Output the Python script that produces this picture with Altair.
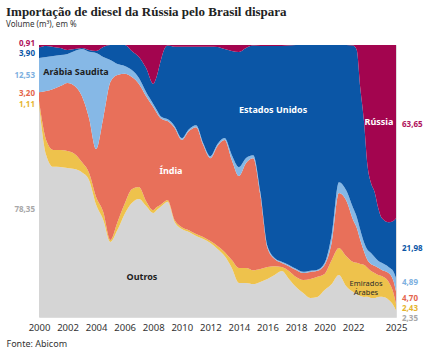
import altair as alt
import pandas as pd

years = [2000, 2000.5, 2001, 2001.5, 2002, 2002.5, 2003, 2003.5, 2004, 2004.5,
         2005, 2005.5, 2006, 2006.5, 2007, 2007.5, 2008, 2008.25, 2008.5, 2008.75,
         2009, 2009.5, 2010, 2010.5, 2011, 2011.5, 2012, 2012.5, 2013, 2013.5,
         2014, 2014.5, 2015, 2015.5, 2016, 2016.5, 2017, 2017.5, 2018, 2018.5,
         2019, 2019.5, 2020, 2020.5, 2021, 2021.5, 2022, 2022.25, 2022.5, 2022.75,
         2023, 2023.25, 2023.5, 2023.75, 2024, 2024.5, 2024.8, 2025]

outros = [78.35, 59.6, 55.1, 55.1, 54.8, 54.4, 53.3, 50.4, 41.2, 35.7,
          27.6, 32.0, 37.9, 41.9, 43.4, 40.8, 38.2, 39.3, 40.4, 41.5,
          42.3, 34.9, 32.3, 31.2, 29.8, 28.7, 27.2, 25.0, 22.4, 18.0,
          12.5, 12.5, 12.1, 12.9, 14.0, 15.4, 16.9, 14.0, 11.0, 8.8,
          7.0, 7.4, 9.9, 12.1, 15.4, 11.4, 9.2, 8.5, 7.7, 7.4,
          7.4, 7.0, 7.0, 7.4, 7.4, 6.2, 4.4, 2.35]
emirados = [1.11, 5.5, 6.2, 6.2, 6.2, 5.5, 3.7, 2.6, 2.9, 2.9,
            0.7, 2.9, 3.7, 5.1, 4.4, 1.8, 1.1, 1.1, 0.7, 0.7,
            0.7, 0.7, 0.7, 0.7, 0.7, 0.7, 0.7, 1.1, 1.5, 2.9,
            5.5, 5.5, 5.1, 4.8, 4.4, 3.3, 1.5, 2.9, 3.7, 4.8,
            7.0, 7.4, 5.9, 8.8, 9.9, 11.0, 11.0, 11.4, 11.8, 11.8,
            10.7, 9.9, 9.2, 8.1, 7.7, 6.6, 4.8, 2.43]
india = [3.20, 18.0, 22.4, 23.5, 25.0, 25.0, 24.3, 20.2, 17.6, 34.6,
         58.1, 54.0, 47.8, 41.2, 37.9, 38.6, 37.9, 34.6, 32.0, 30.1,
         29.0, 33.8, 32.0, 36.4, 39.3, 33.8, 30.5, 36.8, 41.2, 36.8,
         33.8, 38.6, 41.2, 27.2, 7.0, 2.6, 1.5, 1.8, 2.6, 2.6,
         2.6, 2.2, 3.3, 6.6, 20.2, 20.6, 15.4, 12.9, 8.8, 5.1,
         2.9, 2.6, 2.6, 2.6, 2.2, 3.3, 4.4, 4.70]
arabia = [12.53, 12.5, 12.1, 11.4, 10.7, 12.9, 17.3, 24.3, 35.3, 22.4,
          8.1, 4.0, 2.9, 2.6, 2.2, 1.5, 1.1, 1.1, 0.7, 0.7,
          0.7, 0.7, 0.7, 0.7, 0.7, 0.7, 0.7, 0.7, 0.7, 1.8,
          3.3, 1.8, 1.1, 1.1, 0.7, 0.4, 0.4, 0.4, 0.4, 0.4,
          0.4, 0.4, 0.7, 2.9, 4.0, 3.7, 4.4, 4.0, 3.7, 3.3,
          3.7, 4.0, 3.3, 2.6, 2.6, 2.2, 3.3, 4.89]
eua = [3.90, 4.0, 3.3, 2.6, 1.5, 0.7, 0.4, 0.7, 0.7, 3.7,
       5.5, 7.0, 7.7, 7.0, 7.7, 8.8, 7.4, 12.5, 19.9, 25.0,
       27.0, 29.2, 33.6, 30.3, 28.9, 35.5, 40.3, 35.7, 32.7, 38.2,
       42.3, 40.4, 40.3, 53.7, 73.5, 77.9, 79.4, 80.7, 82.3, 83.4,
       83.1, 82.7, 80.1, 69.5, 50.4, 53.3, 59.7, 61.4, 52.2, 44.9,
       31.2, 25.7, 23.9, 19.5, 16.5, 16.5, 18.4, 21.98]
russia = [0.91, 0.4, 0.7, 1.1, 1.8, 1.5, 1.1, 1.8, 2.2, 0.7,
          0.0, 0.0, 0.0, 2.2, 4.4, 8.5, 14.3, 11.4, 6.2, 1.8,
          0.2, 0.6, 0.6, 0.6, 0.6, 0.6, 0.6, 0.7, 1.5, 2.2,
          2.6, 1.1, 0.2, 0.4, 0.4, 0.4, 0.4, 0.2, 0.0, 0.0,
          0.0, 0.0, 0.0, 0.0, 0.0, 0.0, 0.2, 1.8, 15.8, 27.6,
          44.1, 50.7, 54.0, 59.9, 63.6, 65.1, 64.7, 63.65]

tick_years = [2000, 2002, 2004, 2006, 2008, 2010, 2012, 2014, 2016, 2018, 2020, 2022, 2025]

series_names = ["Outros", "Emirados Árabes", "Índia", "Arábia Saudita", "Estados Unidos", "Rússia"]
series_values = [outros, emirados, india, arabia, eua, russia]
area_colors = ["#D5D5D5", "#EEC24C", "#E8705A", "#86B8E6", "#0B56A6", "#A3054F"]
value_colors = ["#A8A8A8", "#E6B52E", "#E4664E", "#7DB0E0", "#0B56A6", "#B0125A"]

# nudges (fraction of the 0-1 stack) so edge labels do not collide
left_nudge = [0.0, -0.0085, 0.0075, -0.0037, -0.003, 0.0085]
right_nudge = [-0.019, -0.0075, -0.004, 0.0065, -0.0037, 0.0257]

inner_text = ["Arábia Saudita", "Estados Unidos", "Rússia", "Índia", "Outros"]
inner_year = [2002.59, 2016.39, 2023.81, 2009.24, 2007.21]
inner_pos = [0.901, 0.761, 0.717, 0.537, 0.147]
inner_color = ["#1E1E1E", "#FFFFFF", "#FFFFFF", "#FFFFFF", "#1E1E1E"]

emir_text = ["Emirados", "Árabes"]
emir_year = [2022.9, 2022.9]
emir_pos = [0.121, 0.087]

rows = []
for i, (name, vals) in enumerate(zip(series_names, series_values)):
    for yr, v in zip(years, vals):
        rows.append({"year": yr, "series": name, "value": v, "order": i})
df = pd.DataFrame(rows)


def edge_labels(idx, nudges):
    vals = [s[idx] for s in series_values]
    total = sum(vals)
    cum = 0.0
    out = []
    for v, n, c in zip(vals, nudges, value_colors):
        mid = (cum + v / 2) / total
        cum += v
        out.append({"year": years[idx], "pos": mid + n,
                    "text": f"{v:.2f}".replace(".", ","), "color": c})
    return pd.DataFrame(out)


left_df = edge_labels(0, left_nudge)
right_df = edge_labels(len(years) - 1, right_nudge)
inner_df = pd.DataFrame({"year": inner_year, "pos": inner_pos, "text": inner_text, "color": inner_color})
emir_df = pd.DataFrame({"year": emir_year, "pos": emir_pos, "text": emir_text})

FONT = "Noto Sans"

x_enc = alt.X(
    "year:Q",
    scale=alt.Scale(domain=[2000, 2025], nice=False, zero=False),
    axis=alt.Axis(values=tick_years, format="d", title="Fonte: Abicom", grid=False,
                  domain=False, ticks=False, labelFontSize=9.5, labelColor="#333333",
                  labelFont=FONT, labelPadding=5, labelFlush=False,
                  titleAnchor="start", titleAlign="left", titleX=-33, titleY=22,
                  titleFont=FONT, titleFontSize=9, titleFontWeight="normal",
                  titleColor="#333333", titleBaseline="top"),
)
y_scale = alt.Scale(domain=[0, 1], nice=False, zero=True)

areas = alt.Chart(df).mark_area(interpolate="monotone").encode(
    x=x_enc,
    y=alt.Y("value:Q", stack="normalize", scale=y_scale, axis=None),
    color=alt.Color("series:N", scale=alt.Scale(domain=series_names, range=area_colors), legend=None),
    order=alt.Order("order:Q"),
)

left_labels = alt.Chart(left_df).mark_text(
    align="right", baseline="middle", dx=-4, font=FONT, fontSize=8, fontWeight="bold"
).encode(x=x_enc, y=alt.Y("pos:Q", scale=y_scale, axis=None),
         text="text:N", color=alt.Color("color:N", scale=None))

right_labels = alt.Chart(right_df).mark_text(
    align="left", baseline="middle", dx=6, font=FONT, fontSize=8, fontWeight="bold"
).encode(x=x_enc, y=alt.Y("pos:Q", scale=y_scale, axis=None),
         text="text:N", color=alt.Color("color:N", scale=None))

inner_labels = alt.Chart(inner_df).mark_text(
    align="center", baseline="middle", font=FONT, fontSize=9, fontWeight="bold"
).encode(x=x_enc, y=alt.Y("pos:Q", scale=y_scale, axis=None),
         text="text:N", color=alt.Color("color:N", scale=None))

emir_labels = alt.Chart(emir_df).mark_text(
    align="center", baseline="middle", font=FONT, fontSize=7.5, color="#2A2A2A"
).encode(x=x_enc, y=alt.Y("pos:Q", scale=y_scale, axis=None), text="text:N")

chart = alt.layer(areas, left_labels, right_labels, inner_labels, emir_labels).resolve_scale(
    color="independent"
).properties(
    width=357,
    height=272,
    padding={"left": 39, "top": 45, "right": 40, "bottom": 36},
    autosize=alt.AutoSizeParams(type="none"),
    title=alt.TitleParams(
        text="Importação de diesel da Rússia pelo Brasil dispara",
        subtitle="Volume (m³), em %",
        anchor="start", frame="group", dx=-33, offset=11,
        font="Liberation Serif", fontSize=13, fontWeight="bold", color="#222222",
        subtitleFont=FONT, subtitleFontSize=8, subtitleColor="#333333", subtitlePadding=2,
    ),
).configure_view(stroke=None).configure(background="white")

chart.save("out.html", embed_options={"renderer": "svg", "actions": False})
